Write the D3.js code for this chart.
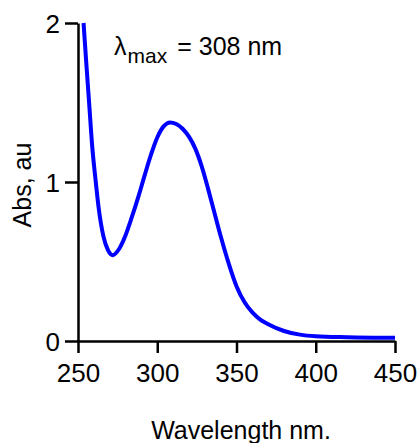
<!DOCTYPE html>
<html>
<head>
<meta charset="utf-8">
<script src="https://cdn.jsdelivr.net/npm/d3@7"></script>
<style>
  html, body { margin: 0; padding: 0; background: #fff; }
  svg { display: block; font-family: "Liberation Sans", Arial, sans-serif; }
</style>
</head>
<body>
<svg id="chart" width="420" height="443"></svg>
<script>
// UV-Vis absorption spectrum
const wavelengths = [253.5, 255, 257, 259, 261, 263, 266, 269, 272, 276, 280, 284, 288, 292, 296, 300, 304, 308, 312, 316, 320, 324, 328, 332, 336, 340, 345, 350, 355, 360, 365, 370, 380, 390, 400, 420, 450];
const absorbance  = [2.0, 1.78, 1.50, 1.22, 1.02, 0.84, 0.66, 0.57, 0.54, 0.58, 0.665, 0.78, 0.905, 1.04, 1.17, 1.28, 1.35, 1.375, 1.365, 1.335, 1.285, 1.21, 1.10, 0.96, 0.81, 0.66, 0.49, 0.345, 0.245, 0.18, 0.135, 0.105, 0.063, 0.04, 0.03, 0.024, 0.02];
const xTicks = [250, 300, 350, 400, 450];
const yTicks = [0, 1, 2];
const xLabel = "Wavelength nm.";
const yLabel = "Abs, au";

const svg = d3.select("#chart");
const plotLeft = 78, plotRight = 395, plotTop = 23, plotBottom = 341;

const x = d3.scaleLinear().domain([250, 450]).range([plotLeft, plotRight]);
const y = d3.scaleLinear().domain([0, 2]).range([plotBottom, plotTop]);

const fontSize = 26;

// x axis
const gx = svg.append("g")
  .attr("transform", `translate(0,${plotBottom})`)
  .call(d3.axisBottom(x).tickValues(xTicks).tickFormat(d3.format("d"))
    .tickSize(12).tickSizeOuter(0).tickPadding(11));

// y axis
const gy = svg.append("g")
  .attr("transform", `translate(${plotLeft},0)`)
  .call(d3.axisLeft(y).tickValues(yTicks).tickFormat(d3.format("d"))
    .tickSize(13).tickSizeOuter(0).tickPadding(5));

[gx, gy].forEach(g => {
  g.select(".domain").attr("stroke", "#000").attr("stroke-width", 2.5);
  g.selectAll(".tick line").attr("stroke", "#000").attr("stroke-width", 2.5);
  g.selectAll(".tick text").attr("fill", "#000").style("font-size", fontSize + "px")
    .style("font-family", "'Liberation Sans', Arial, sans-serif");
});
gy.selectAll(".tick text").attr("dy", "0.36em");

// spectrum curve
const line = d3.line()
  .x((d, i) => x(wavelengths[i]))
  .y(d => y(d))
  .curve(d3.curveMonotoneX);

svg.append("path")
  .datum(absorbance)
  .attr("fill", "none")
  .attr("stroke", "#0000ff")
  .attr("stroke-width", 4)
  .attr("stroke-linejoin", "round")
  .attr("d", line);

// axis titles
svg.append("text")
  .attr("x", 241)
  .attr("y", 439)
  .attr("text-anchor", "middle")
  .style("font-size", "25px")
  .text(xLabel);

svg.append("text")
  .attr("transform", `translate(31,${(plotTop + plotBottom) / 2 + 3}) rotate(-90)`)
  .attr("text-anchor", "middle")
  .style("font-size", "25px")
  .text(yLabel);

// peak annotation
const ann = svg.append("text")
  .attr("x", 114)
  .attr("y", 55)
  .style("font-size", "25px");
ann.append("tspan").text("λ");
ann.append("tspan").attr("dy", 8).attr("dx", 1).style("font-size", "21px").text("max");
ann.append("tspan").attr("dy", -8).attr("dx", 10).text("= 308 nm");
</script>
</body>
</html>
